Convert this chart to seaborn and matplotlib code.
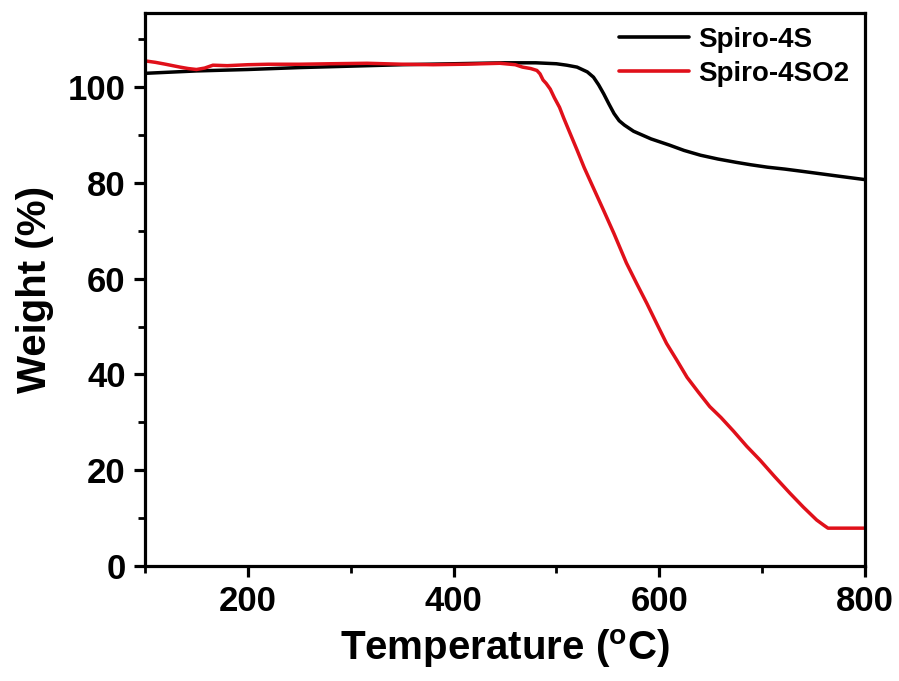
import matplotlib
matplotlib.use("Agg")
import matplotlib.pyplot as plt
import seaborn as sns
import pandas as pd
from matplotlib.ticker import MultipleLocator

# ---- data ----
temp_4s = [100, 150, 200, 250, 300, 350, 400, 450, 480, 500, 510, 520, 530, 536, 541,
           546, 551, 556, 561, 566, 575, 592, 610, 624, 640, 657, 675, 689, 705, 722,
           740, 754, 775, 800]
w_4s = [102.9, 103.4, 103.7, 104.1, 104.4, 104.7, 104.9, 105.1, 105.1, 104.9, 104.6,
        104.2, 103.2, 102.1, 100.5, 98.6, 96.5, 94.5, 93.0, 92.1, 90.8, 89.2, 87.9,
        86.8, 85.8, 85.0, 84.3, 83.8, 83.3, 82.9, 82.4, 82.0, 81.4, 80.7]

temp_4so2 = [100, 110, 120, 134, 142, 150, 158, 166, 180, 200, 220, 250, 280, 316, 350,
             380, 410, 445, 460, 467, 475, 481, 484, 487, 490, 494, 498, 503, 507, 513,
             520, 527, 535, 546, 556, 568, 578, 588, 598, 607, 617, 627, 638, 649, 660,
             672, 685, 698, 712, 727, 740, 753, 760, 764, 780, 800]
w_4so2 = [105.5, 105.2, 104.8, 104.2, 103.9, 103.7, 104.0, 104.6, 104.5, 104.7, 104.8,
          104.8, 104.9, 105.0, 104.8, 104.7, 104.8, 105.0, 104.7, 104.2, 103.9, 103.5,
          102.8, 101.5, 100.8, 99.6, 97.8, 95.8, 93.6, 90.5, 86.9, 83.2, 79.4, 74.2,
          69.4, 63.3, 59.0, 54.8, 50.4, 46.5, 43.0, 39.4, 36.3, 33.3, 31.0, 28.2, 25.0,
          22.1, 18.7, 15.2, 12.3, 9.6, 8.5, 7.9, 7.9, 7.9]

series_names = ["Spiro-4S", "Spiro-4SO2"]
series_colors = ["#000000", "#e0101a"]
x_ticks = [200, 400, 600, 800]
y_ticks = [0, 20, 40, 60, 80, 100]

df = pd.concat([
    pd.DataFrame({"T": temp_4s, "W": w_4s, "Sample": series_names[0]}),
    pd.DataFrame({"T": temp_4so2, "W": w_4so2, "Sample": series_names[1]}),
], ignore_index=True)

sns.set_style("ticks")
plt.rcParams["font.family"] = ["Liberation Sans", "DejaVu Sans"]
plt.rcParams["font.weight"] = "bold"
plt.rcParams["text.color"] = "black"
plt.rcParams["axes.labelcolor"] = "black"
plt.rcParams["xtick.color"] = "black"
plt.rcParams["ytick.color"] = "black"

fig = plt.figure(figsize=(8.99, 6.81), dpi=100)
ax = fig.add_axes([0.1613, 0.1689, 0.8009, 0.8120])

sns.lineplot(data=df, x="T", y="W", hue="Sample", palette=series_colors,
             hue_order=series_names, linewidth=2.5, ax=ax, sort=False, estimator=None)

ax.set_xlim(100, 800)
ax.set_ylim(0, 115.5)
ax.set_xticks(x_ticks)
ax.set_yticks(y_ticks)
ax.xaxis.set_minor_locator(MultipleLocator(100))
ax.yaxis.set_minor_locator(MultipleLocator(10))

for s in ax.spines.values():
    s.set_visible(True)
    s.set_linewidth(2.3)
    s.set_color("black")

ax.tick_params(which="major", direction="out", length=8, width=2.3, labelsize=25,
               colors="black", pad=6)
ax.tick_params(which="minor", direction="out", length=5, width=2.0, colors="black")
ax.tick_params(top=False, right=False, which="both")
for lab in ax.get_xticklabels() + ax.get_yticklabels():
    lab.set_fontweight("bold")

ax.set_xlabel("Temperature ($\\mathregular{^{o}}$C)", fontsize=29, fontweight="bold",
              labelpad=6, color="black")
ax.set_ylabel("Weight (%)", fontsize=29, fontweight="bold", labelpad=10, color="black")

leg = ax.legend(loc="upper left", bbox_to_anchor=(0.655, 0.98), frameon=False,
                prop={"size": 20, "weight": "bold"}, handlelength=2.5,
                handletextpad=0.35, labelspacing=0.28, borderpad=0.1, borderaxespad=0)
for line in leg.get_lines():
    line.set_linewidth(2.6)
for t in leg.get_texts():
    t.set_color("black")

fig.savefig("out.png", dpi=100)
